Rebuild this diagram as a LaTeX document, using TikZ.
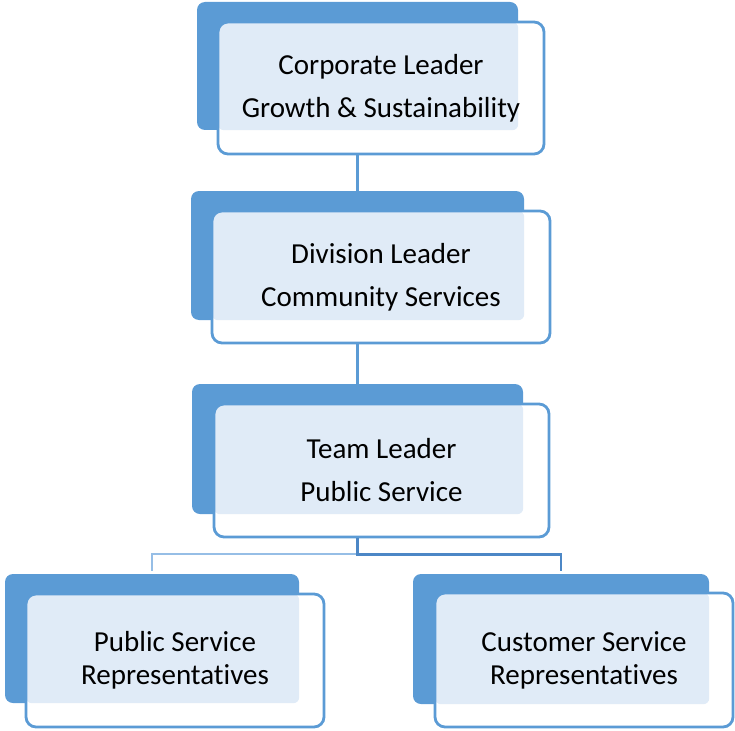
\documentclass[tikz,border=0pt]{standalone}
\usepackage{fontspec}
\setmainfont{Carlito}[Ligatures=NoCommon]
\definecolor{boxblue}{RGB}{91,155,213}
\definecolor{patchblue}{RGB}{224,235,247}
\definecolor{linklight}{RGB}{150,190,230}
\definecolor{linkdark}{RGB}{76,135,198}
\tikzset{
  backbox/.style={fill=boxblue, rounded corners=8pt, inner sep=0pt},
  frontbox/.style={draw=boxblue, line width=2.8pt, fill=white, rounded corners=10pt,
                   inner sep=0pt, align=center, font=\fontsize{29}{43}\selectfont,
                   path picture={\fill[patchblue, rounded corners=6pt]
                     (path picture bounding box.north west) rectangle (#1.south east);}},
  link/.style={draw=boxblue, line width=2.5pt},
}
\begin{document}
\begin{tikzpicture}[x=1pt, y=-1pt]
  \useasboundingbox (0,0) rectangle (735,730);
  % back plates
  \node[backbox, minimum width=321pt, minimum height=128pt] (b1) at (357.5,66) {};
  \node[backbox, minimum width=333pt, minimum height=129pt] (b2) at (357.5,255.5) {};
  \node[backbox, minimum width=331pt, minimum height=130pt] (b3) at (357.5,449) {};
  \node[backbox, minimum width=294pt, minimum height=129pt] (b4) at (152,638.5) {};
  \node[backbox, minimum width=296pt, minimum height=130pt] (b5) at (561,639) {};
  % front boxes
  \node[frontbox=b1, minimum width=326pt, minimum height=132pt] (f1) at (381,88)
    {Corporate Leader\\Growth \& Sustainability};
  \node[frontbox=b2, minimum width=338pt, minimum height=132pt] (f2) at (381,277)
    {Division Leader\\Community Services};
  \node[frontbox=b3, minimum width=335pt, minimum height=133pt] (f3) at (381.5,470.5)
    {Team Leader\\Public Service};
  \node[frontbox=b4, minimum width=298pt, minimum height=133pt,
        font=\fontsize{29}{33}\selectfont] (f4) at (175,660.5)
    {Public Service\\Representatives};
  \node[frontbox=b5, minimum width=298pt, minimum height=134pt,
        font=\fontsize{29}{33}\selectfont] (f5) at (584,660)
    {Customer Service\\Representatives};
  % connectors
  \draw[link] (f1.south -| b1) -- (b2.north);
  \draw[link] (f2.south -| b2) -- (b3.north);
  \coordinate (fork) at ([yshift=-16pt]f3.south -| b3);
  \draw[link, draw=linklight, line width=2pt] (fork) -| ([yshift=3pt]b4.north);
  \draw[link, draw=linkdark] (f3.south -| b3) -- (fork) -| ([yshift=3pt]b5.north);
\end{tikzpicture}
\end{document}
